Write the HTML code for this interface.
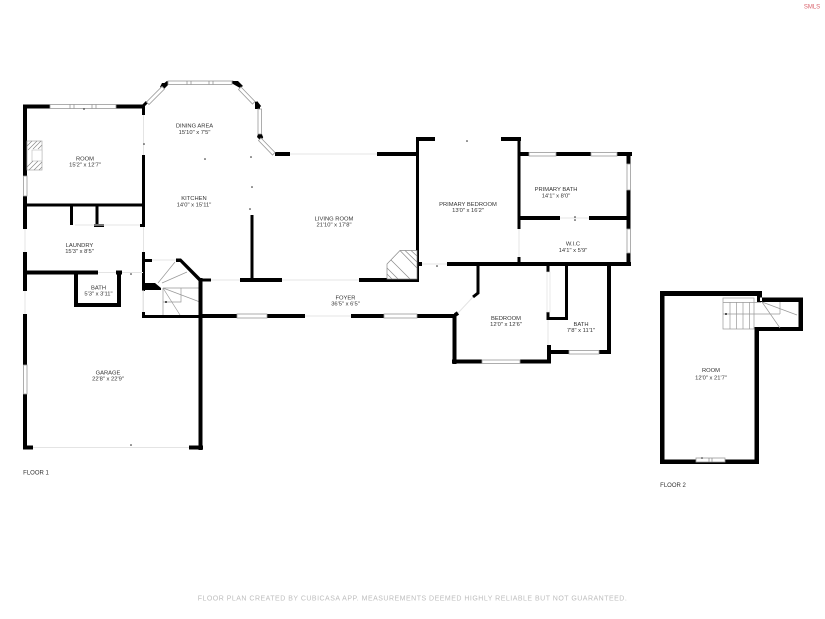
<!DOCTYPE html>
<html><head><meta charset="utf-8"><style>
html,body{margin:0;padding:0;background:#fff}
svg{display:block;filter:blur(.3px)}
text{font-family:"Liberation Sans",sans-serif;font-size:5.8px;fill:#333;text-anchor:middle}
.w{stroke:#000;stroke-width:4;fill:none;stroke-linecap:butt}
.t{stroke:#000;stroke-width:3;fill:none}
.g{stroke:#999;stroke-width:.7;fill:none}
.o{stroke:#e4e4e4;stroke-width:1;fill:none}
.win{fill:#fff;stroke:#999;stroke-width:.8}
.h{stroke:#888;stroke-width:.7;fill:none}
</style></head><body>
<svg width="825" height="619" viewBox="0 0 825 619" xmlns="http://www.w3.org/2000/svg">
<rect width="825" height="619" fill="#fff"/>
<!-- room & left side -->
<path class="w" d="M24 106.500H50M116 106.500H144M25 104.500V176M25 196V229M25 252V291M25 314V365M25 394V449.500"/>
<path class="t" d="M25 205H144M71.500 205V225M97 205V225M94 225.500H104M140 225.500H144.500M143.500 106V115M143.500 155V227M143.500 252V291M143.500 312V318"/>
<rect class="win" x="50" y="104.500" width="66" height="4"/><path class="h" d="M70 104.500v4M74 104.500v4M92 104.500v4M96 104.500v4"/>
<rect class="win" x="23.500" y="176" width="3.500" height="20"/>
<path class="o" d="M143.500 115V155M143.500 227V252M143.500 291V312M25 229V252M25 291V314M75 225H140"/>
<!-- fireplace -->
<g><rect x="27" y="141" width="15" height="29" fill="#fff" stroke="#aaa" stroke-width=".7"/><rect x="32" y="150" width="10" height="11" fill="#fff" stroke="#bbb" stroke-width=".6"/>
<path class="h" d="M27 146l5-5M28 150l9-9M33 149l8-8M38 149l4-4M27 167l6-6M29 170l9-9M34 170l8-8M39 170l3-3"/></g>
<!-- dining bay -->
<path class="t" d="M143 106L147 102M163 86L168 82M232 82L238 84M256 102L260 107M260 135L262 138"/>
<path d="M162 83h6v2l-5 5-3-3zM233 81h5l5 5-3 2-7-4zM255 101l5 5v3h-5zM258 134h4l1 4-3 2-3-3zM275 152h15v4h-15z" fill="#000"/>
<g fill="#fff" stroke="#999" stroke-width=".8">
<rect x="168" y="81" width="64" height="3.500"/>
<path d="M146.500 102L162 86.500L164.500 89L149 104.500ZM241 87L255 101.500L252.500 104L238.500 89.500ZM258 109H261.500V134H258ZM261 138L275 152.500L272.500 155L258.500 140.500Z"/>
</g>
<path class="h" d="M187 81v3.500M191 81v3.500M209 81v3.500M213 81v3.500"/>
<!-- laundry bottom & bath -->
<path class="w" d="M25 272.500H98M116 272.500H122M76 272V307M74 305H121M119 272V307"/>
<path class="o" d="M98 272.500H116M122 272.500H143"/>
<!-- stairs -->
<path class="g" d="M158 283L175 262M162 283L187 272M163 288H200M163 288V315M163 288H181V302H163M163 288L180 315M163 288L200 302"/>
<path class="t" d="M143 260.500H152M143.500 312V317M143 316.500H201"/>
<path d="M176 258.500h5l21 21-3 2-19-19.500h-4zM143 283h12l6 5v2h-18z" fill="#000"/>
<path class="w" d="M200.500 278V450"/>
<path class="t" d="M200 280H211"/>
<path class="o" d="M152 260H176M211 280H240M282 280H359M305 316H351M143 290V312"/>
<!-- garage -->
<path class="w" d="M24 447.500H33M189 447.500H203"/>
<path class="o" d="M33 447.500H189"/>
<rect class="win" x="23.500" y="365" width="3.500" height="29"/>
<!-- kitchen/living -->
<path class="t" d="M252 215V281"/>
<path class="w" d="M240 280H282M359 280H419M276 154H290M377 154H419"/>
<path class="o" d="M290 154H377" stroke-width="2"/>
<path class="t" d="M417.500 137V282"/>
<path class="w" d="M417 139H435"/>
<!-- living fireplace -->
<path d="M400 250.500H417V279H387V264Z" fill="#fff" stroke="#888" stroke-width=".7"/>
<path class="h" d="M400 250.500L417 268M391 260L410 279M405 250.500L417 262M411 250.500L417 256M387 268L398 279M387 274L392 279"/>
<!-- foyer bottom -->
<path class="w" d="M200 316H237M267 316H305M351 316H384M417 316H456"/>
<rect class="win" x="237" y="314" width="30" height="4"/>
<rect class="win" x="384" y="314" width="33" height="4"/>
<!-- primary -->
<path class="w" d="M501 139H521M520 154H529M556 154H591M617 154H632M447 264H631M520 218H560M589 218H629M418 264H422"/>
<path class="t" d="M519 137V229M519 257V265"/>
<path class="w" d="M628.500 152V164M628.500 190V229M628.500 253V266"/>
<rect class="win" x="529" y="152.500" width="27" height="3.500"/>
<rect class="win" x="591" y="152.500" width="26" height="3.500"/>
<rect class="win" x="627" y="164" width="3.500" height="26"/>
<rect class="win" x="627" y="229" width="3.500" height="24"/>
<path class="o" d="M560 218H589M519 229V257M422 264H447"/>
<!-- bedroom -->
<path class="t" d="M478 265V293L473 297M548 264V272M548 312V320M548 318.500H568M566.500 264V320"/>
<path class="w" d="M455 315L458 313M454.500 314V364M452 361.500H482M520 361.500H551M549 345V363M548 352H569M599 352H611M609 264V354"/>
<rect class="win" x="482" y="360" width="38" height="3.500"/>
<rect class="win" x="569" y="350.500" width="30" height="3.500"/>
<path class="o" d="M473 297L458 313M548 320V345"/>
<rect x="547" y="272" width="3" height="40" fill="#fff" stroke="#ddd" stroke-width=".6"/>
<!-- floor 2 -->
<path d="M660 291H762V301H760V297.500H803V331H759V464H660Z M664.500 296V459.500H754.500V327H798.500V302H757V296Z" fill="#000" fill-rule="evenodd"/>
<rect x="723" y="298" width="31" height="31" fill="#fff" stroke="#999" stroke-width=".7"/>
<path class="g" d="M723 302.500H761M723 314H780M730 302V329M736.500 302V329M743 302V329M749.500 302V329M762 302L797 315M762 302L780 328M780 302V314"/>
<rect class="win" x="696" y="458" width="29" height="4"/><path class="h" d="M709 458v4M712 458v4"/>
<!-- dots -->
<g fill="#222"><circle cx="84" cy="109" r=".8"/><circle cx="144" cy="144" r=".8"/><circle cx="205" cy="159" r=".8"/><circle cx="251" cy="157" r=".8"/><circle cx="252" cy="187" r=".8"/><circle cx="250" cy="209" r=".8"/><circle cx="131" cy="274" r=".8"/><circle cx="131" cy="445" r=".8"/><circle cx="166" cy="302" r="1"/><circle cx="726" cy="314" r="1"/><circle cx="575" cy="217" r=".8"/><circle cx="575" cy="220" r=".8"/><circle cx="467" cy="141" r=".8"/><circle cx="437" cy="266" r=".8"/><circle cx="702" cy="458" r=".8"/></g>
<!-- labels -->
<text x="85" y="160.500">ROOM</text><text x="85" y="166.500">15'2" x 12'7"</text>
<text x="194.500" y="127.500">DINING AREA</text><text x="194.500" y="134">15'10" x 7'5"</text>
<text x="194" y="200">KITCHEN</text><text x="194" y="206.500">14'0" x 15'11"</text>
<text x="334" y="220.500">LIVING ROOM</text><text x="334" y="226.500">21'10" x 17'8"</text>
<text x="468" y="206">PRIMARY BEDROOM</text><text x="468" y="212">13'0" x 16'2"</text>
<text x="556" y="191">PRIMARY BATH</text><text x="556" y="197.500">14'1" x 8'0"</text>
<text x="573" y="245.500">W.I.C</text><text x="573" y="252">14'1" x 5'9"</text>
<text x="79.500" y="247">LAUNDRY</text><text x="79.500" y="253">15'3" x 8'5"</text>
<text x="98.500" y="289.500">BATH</text><text x="98.500" y="295.500">5'3" x 3'11"</text>
<text x="345.500" y="299.500">FOYER</text><text x="345.500" y="305.500">36'5" x 6'5"</text>
<text x="506" y="320">BEDROOM</text><text x="506" y="326">12'0" x 12'6"</text>
<text x="581" y="326">BATH</text><text x="581" y="332">7'8" x 11'1"</text>
<text x="108" y="374.500">GARAGE</text><text x="108" y="380.500">22'8" x 22'9"</text>
<text x="711" y="372">ROOM</text><text x="711" y="379.500">12'0" x 21'7"</text>
<text x="36" y="474.500" style="font-size:6px">FLOOR 1</text>
<text x="673" y="487" style="font-size:6px">FLOOR 2</text>
<text x="412.500" y="600.500" style="font-size:7px;fill:#bdbdbd;letter-spacing:.49px">FLOOR PLAN CREATED BY CUBICASA APP. MEASUREMENTS DEEMED HIGHLY RELIABLE BUT NOT GUARANTEED.</text>
<text x="812" y="8.500" style="font-size:6px;fill:#d9606a">SMLS</text>
</svg>
</body></html>
